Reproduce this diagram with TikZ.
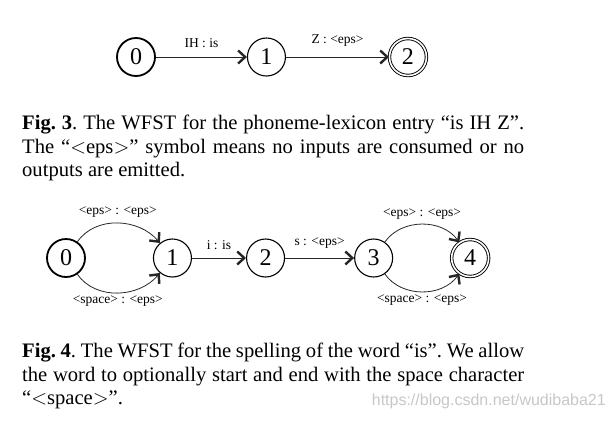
\documentclass[tikz,border=0pt]{standalone}
\usepackage{fontspec}
\setmainfont{Liberation Serif}
\newfontfamily\marksans{Liberation Sans}
\usepackage{tikz}
\usetikzlibrary{positioning,arrows.meta}

\begin{document}
\begin{tikzpicture}[x=1pt, y=-1pt,
  state/.style={circle, draw=black, line width=1.1pt, minimum size=38pt,
                inner sep=0pt, font=\fontsize{24}{24}\selectfont},
  start/.style={state, line width=1.8pt},
  final/.style={state, double, double distance=1.6pt, line width=0.9pt,
                minimum size=37pt},
  edge/.style={draw=black!85, line width=0.8pt,
               -{Straight Barb[length=7pt, width=13pt, line width=2.4pt]}},
  lbl/.style={font=\fontsize{13.5}{14}\selectfont, inner sep=1pt},
  caption/.style={anchor=north west, inner sep=0pt, text width=502pt,
                  align=justify, font=\fontsize{20.6}{23.5}\selectfont\frenchspacing},
  node distance=93pt
]
\useasboundingbox (0,0) rectangle (611,421);

% Fig. 3: phoneme-lexicon entry
\node[start] (a0) at (136,57) {0};
\node[state, right=91pt of a0] (a1) {1};
\node[final, right=103pt of a1] (a2) {2};

\draw[edge] (a0) -- node[lbl, above=8pt] {IH : is} (a1);
\draw[edge] (a1) -- node[lbl, above=9pt] {Z : <eps>} (a2);

\node[caption] (cap3) at (22,115) {\textbf{Fig.~3}. The WFST for the phoneme-lexicon entry ``is IH Z''.\linebreak
The ``$<$eps$>$'' symbol means no inputs are consumed or no\linebreak
outputs are emitted.};

% Fig. 4: spelling of "is"
\node[start] (b0) at (66,258) {0};
\node[state, right=67pt of b0] (b1) {1};
\node[state, right=54pt of b1] (b2) {2};
\node[state, right=69pt of b2] (b3) {3};
\node[final, right=58pt of b3] (b4) {4};

\draw[edge] (b0) to[out=55, in=130] node[lbl, above=4pt] {<eps> : <eps>} (b1);
\draw[edge] (b0) to[out=-55, in=-130] node[lbl, below=2pt] {<space> : <eps>} (b1);
\draw[edge] (b1) -- node[lbl, above=7pt] {i : is} (b2);
\draw[edge] (b2) -- node[lbl, above=8.5pt] {s : <eps>} (b3);
\draw[edge] (b3) to[out=55, in=125] node[lbl, above=4pt] {<eps> : <eps>} (b4);
\draw[edge] (b3) to[out=-55, in=-125] node[lbl, below=2pt] {<space> : <eps>} (b4);

\node[caption] (cap4) at (22,343) {\textbf{Fig.~4}. The WFST for the spelling of the word ``is''. We allow\linebreak
the word to optionally start and end with the space character\linebreak
``$<$space$>$''.};

% watermark
\node[anchor=east, inner sep=0pt, text=black!22,
      font=\marksans\fontsize{16}{16}\selectfont] (mark) at (606,401)
      {https://blog.csdn.net/wudibaba21};

\end{tikzpicture}
\end{document}
